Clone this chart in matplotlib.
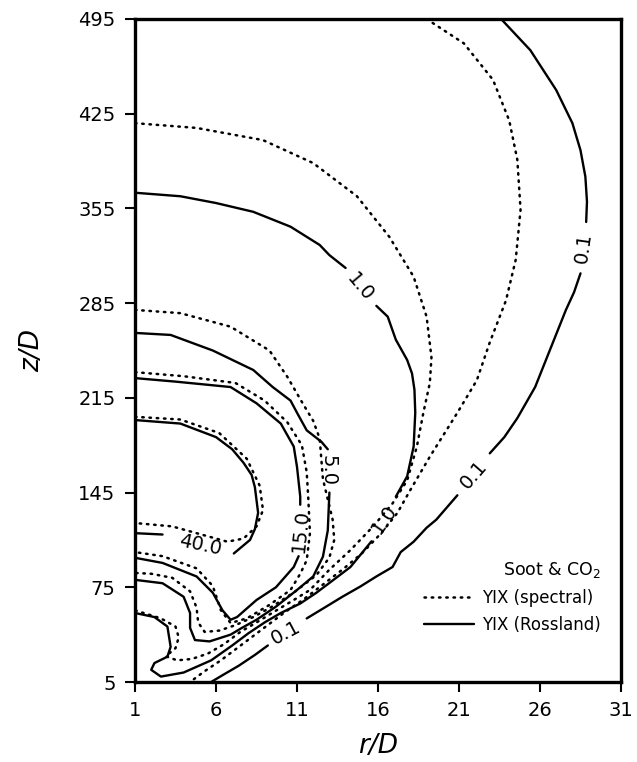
import matplotlib
matplotlib.use('Agg')
import matplotlib.pyplot as plt
from matplotlib.lines import Line2D

# ---------------- data (r/D, z/D) ----------------
r_ticks = [1, 6, 11, 16, 21, 26, 31]
z_ticks = [5, 75, 145, 215, 285, 355, 425, 495]

# YIX (Rossland) – solid contours, split where the labels sit
ross_01 = [
    [(23.6, 495), (25.4, 472), (27.0, 442.5), (28.0, 418), (28.5, 398), (28.8, 378.5), (28.9, 360), (28.85, 345)],
    [(28.5, 307), (28.1, 293), (27.6, 280), (26.6, 250), (25.7, 223), (24.6, 200), (23.8, 186), (22.9, 174)],
    [(20.9, 143), (19.6, 125), (19.0, 119), (18.2, 108.7), (17.4, 101), (16.9, 90), (15.9, 83),
     (14.9, 75.5), (13.8, 68), (12.8, 60.7), (11.6, 52)],
    [(9.2, 32), (8.4, 25), (7.4, 17), (6.4, 10), (5.7, 5)],
]
ross_10 = [
    [(1.0, 366.6), (3.8, 364), (6.0, 359), (8.3, 352.5), (10.6, 341.5), (12.4, 328), (13.0, 320.5), (14.0, 311)],
    [(15.9, 283), (16.6, 275), (17.1, 258), (17.8, 243), (18.1, 233), (18.25, 221), (18.3, 204), (18.2, 179),
     (17.8, 157), (17.1, 142)],
    [(15.6, 109), (14.3, 90), (13.2, 80), (12.2, 71), (11.2, 63), (10.0, 56), (9.0, 49), (8.0, 41), (7.0, 32),
     (5.7, 21), (4.0, 12), (2.6, 9), (2.0, 14), (2.2, 19), (3.0, 23.7), (3.2, 31), (3.0, 46), (2.2, 53), (1.0, 56)],
]
ross_5 = [
    [(1.0, 263), (3.2, 261.5), (5.8, 250), (8.3, 235.6), (9.5, 223), (10.6, 213), (11.0, 204), (11.6, 191),
     (12.5, 182.6), (12.9, 177)],
    [(13.0, 145), (12.9, 117), (12.6, 97.6), (12.0, 83), (11.0, 73), (9.7, 60.7), (8.5, 51), (7.6, 45), (6.9, 40),
     (5.6, 35), (4.7, 36), (4.4, 45), (4.4, 56), (4.0, 68), (2.7, 78), (1.0, 80.5)],
]
ross_15 = [
    [(1.0, 229.6), (3.5, 227), (6.9, 223), (8.5, 211), (10.0, 196), (10.8, 179), (11.0, 164), (11.2, 142), (11.2, 136)],
    [(11.1, 98), (10.8, 90), (9.7, 75), (8.5, 65.6), (7.3, 53), (6.9, 51), (6.4, 58), (5.8, 71), (4.8, 83),
     (2.7, 93), (1.0, 96.8)],
]
ross_40 = [
    [(1.0, 198.6), (3.8, 196), (6.0, 186), (7.0, 177), (7.7, 167), (8.2, 158), (8.4, 149), (8.6, 130), (8.4, 118),
     (8.1, 110), (7.1, 100)],
    [(2.7, 114), (1.0, 115)],
]

# YIX (spectral) – dotted contours
spec_01 = [(19.0, 495), (21.3, 477), (23.1, 450), (24.1, 420), (24.6, 391), (24.8, 354), (24.5, 317), (23.9, 287),
           (22.9, 256), (22.1, 228), (20.9, 204), (19.2, 171.5), (18.0, 147), (17.2, 130), (16.2, 115), (15.0, 100),
           (13.8, 88), (12.6, 77), (11.4, 66), (10.3, 57), (9.3, 48), (8.3, 39), (7.3, 30), (6.3, 21), (5.3, 13),
           (4.4, 5)]
spec_10 = [(1.0, 418), (4.8, 414.5), (8.9, 405.5), (12.0, 388.5), (14.7, 364), (16.7, 334), (18.2, 304.5),
           (19.0, 275), (19.3, 245), (19.2, 226), (18.8, 204), (18.4, 179), (17.8, 154), (16.9, 137), (15.7, 120),
           (14.3, 102.5), (13.0, 88), (11.8, 73), (10.8, 65.6), (9.6, 57), (8.5, 49), (7.5, 42), (6.5, 33),
           (5.5, 26), (4.5, 22), (3.6, 21), (2.9, 24), (3.5, 30), (3.7, 38), (3.5, 46), (2.6, 52), (1.0, 58)]
spec_5 = [(1.0, 280), (3.8, 277.6), (6.9, 267.6), (9.3, 250), (10.4, 230.6), (11.3, 212), (12.0, 198),
          (12.4, 185), (12.5, 170), (12.6, 155), (12.9, 140), (13.2, 125), (13.3, 110), (13.0, 97), (12.2, 84),
          (10.9, 72), (9.5, 61), (8.3, 53), (7.2, 47), (6.2, 43), (5.3, 42), (4.9, 49), (4.8, 60), (4.4, 72),
          (3.3, 82), (2.0, 85), (1.0, 85.6)]
spec_15 = [(1.0, 234), (4.0, 231), (7.2, 226), (9.0, 213), (10.4, 197), (11.3, 180), (11.6, 160), (11.7, 140),
           (11.8, 115), (11.6, 95), (11.2, 85), (10.6, 73), (9.3, 62), (7.9, 52), (6.9, 48.6), (6.3, 58),
           (5.8, 76), (4.8, 89), (2.7, 98), (1.0, 101)]
spec_40 = [(1.0, 201), (3.8, 199), (6.2, 189), (7.9, 170), (8.7, 150), (8.9, 132), (8.5, 120), (7.7, 111),
           (6.7, 108.7), (5.4, 113), (3.3, 120), (1.0, 122.5)]

# contour labels: text, r, z, rotation
label_text = ['0.1', '0.1', '0.1', '1.0', '1.0', '5.0', '15.0', '40.0']
label_r = [28.7, 21.9, 10.3, 14.9, 16.4, 12.9, 11.2, 5.0]
label_z = [326, 158, 41.5, 297, 125, 161, 117, 106]
label_rot = [82, 49, 28, -50, 55, -90, 84, -12]

# ---------------- drawing ----------------
fig = plt.figure(figsize=(6.37, 7.62), dpi=100)
ax = fig.add_axes([135 / 637, 80 / 762, 486 / 637, 663 / 762])

solid_kw = dict(color='black', lw=1.7, solid_capstyle='round', solid_joinstyle='round')
dot_kw = dict(color='black', lw=1.8, linestyle=(0, (0.6, 2.3)), dash_capstyle='round')

for contour in (ross_01, ross_10, ross_5, ross_15, ross_40):
    for seg in contour:
        rr, zz = zip(*seg)
        ax.plot(rr, zz, **solid_kw)

for contour in (spec_01, spec_10, spec_5, spec_15, spec_40):
    rr, zz = zip(*contour)
    ax.plot(rr, zz, **dot_kw)

for t, r, z, rot in zip(label_text, label_r, label_z, label_rot):
    ax.text(r, z, t, rotation=rot, rotation_mode='anchor', ha='center', va='center',
            fontsize=14, color='black')

ax.set_xlim(1, 31)
ax.set_ylim(5, 495)
ax.set_xticks(r_ticks)
ax.set_yticks(z_ticks)
ax.tick_params(direction='out', length=7, width=1.5, labelsize=14, pad=7)
for sp in ax.spines.values():
    sp.set_linewidth(2.4)

ax.set_xlabel('r/D', fontsize=19, style='italic', labelpad=9)
ax.set_ylabel('z/D', fontsize=19, style='italic', labelpad=24)

handles = [Line2D([], [], **dot_kw), Line2D([], [], **solid_kw)]
leg = ax.legend(handles, ['YIX (spectral)', 'YIX (Rossland)'], title='Soot & CO$_2$',
                loc='lower right', bbox_to_anchor=(0.99, 0.05), frameon=False,
                fontsize=12, title_fontsize=12.5, handlelength=3.0, handletextpad=0.5,
                labelspacing=0.55)
leg._legend_box.align = 'right'

fig.savefig('out.png', dpi=100)
